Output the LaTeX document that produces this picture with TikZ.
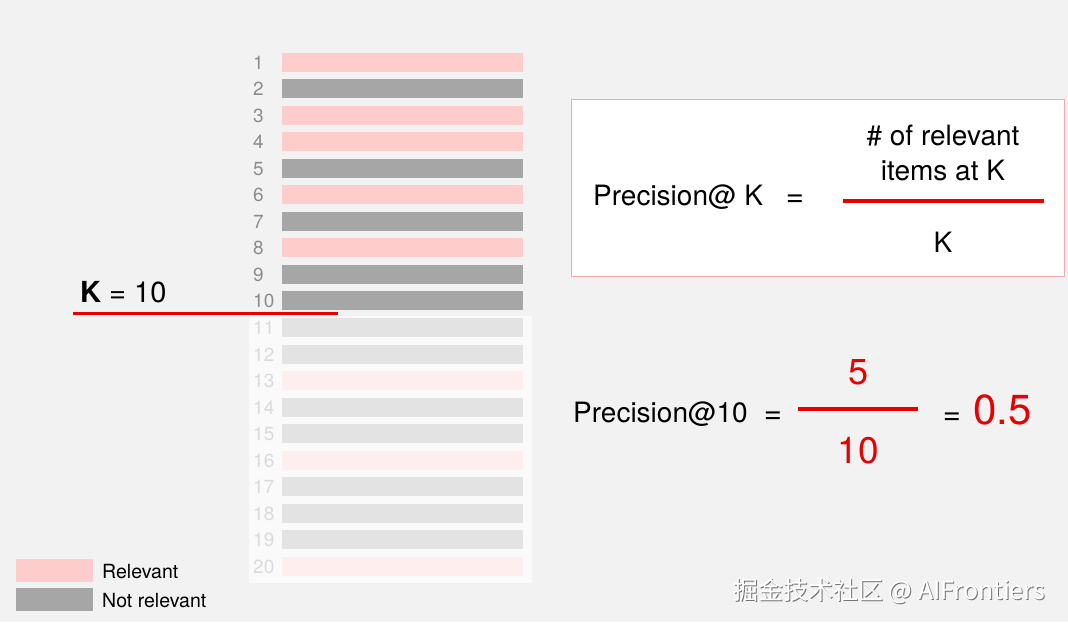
\documentclass[tikz,border=0pt]{standalone}
\usepackage{fontspec}
\setmainfont{TeX Gyre Heros}
\newfontfamily\cjkfont{Noto Sans CJK SC}
\definecolor{bg}{HTML}{F2F2F2}
\definecolor{relpink}{HTML}{FFCCCC}
\definecolor{nrgray}{HTML}{A6A6A6}
\definecolor{fadepink}{HTML}{FFEEEE}
\definecolor{fadegray}{HTML}{E3E3E3}
\definecolor{numgray}{HTML}{8C8C8C}
\definecolor{fadenum}{HTML}{DADADA}
\definecolor{accent}{HTML}{E60000}
\definecolor{boxedge}{HTML}{F2AAAA}
\definecolor{panel}{HTML}{FAFAFA}
\newcommand{\fs}[1]{\fontsize{#1}{#1}\selectfont}
\begin{document}
\begin{tikzpicture}[x=1pt,y=-1pt,
  bar/.style={minimum width=241pt,minimum height=19pt,inner sep=0pt,draw=none},
  rownum/.style={anchor=base west,inner sep=0pt,font=\fs{19}},
  txt/.style={inner sep=0pt,font=\fs{28}},
  eqsign/.style={inner sep=0pt,font=\fs{31}},
  redline/.style={draw=accent,line width=4pt},
  swatch/.style={minimum width=77pt,minimum height=23pt,inner sep=0pt,draw=none}]
\useasboundingbox (0,0) rectangle (1068,622);
\fill[bg] (0,0) rectangle (1068,622);

% faded panel for rows 11-20
\node[fill=panel,minimum width=283pt,minimum height=267pt,inner sep=0pt,anchor=north west] (fadepanel) at (249,316) {};

% rows 1-10
\foreach \i/\c in {1/relpink,2/nrgray,3/relpink,4/relpink,5/nrgray,6/relpink,7/nrgray,8/relpink,9/nrgray,10/nrgray}{
  \pgfmathsetmacro{\yy}{62+(\i-1)*26.55}
  \node[bar,fill=\c] (b\i) at (402.5,\yy) {};
  \node[rownum,text=numgray] (n\i) at (253,\yy+7) {\i};
}
% rows 11-20
\foreach \i/\c in {11/fadegray,12/fadegray,13/fadepink,14/fadegray,15/fadegray,16/fadepink,17/fadegray,18/fadegray,19/fadegray,20/fadepink}{
  \pgfmathsetmacro{\yy}{62+(\i-1)*26.55}
  \node[bar,fill=\c] (b\i) at (402.5,\yy) {};
  \node[rownum,text=fadenum] (n\i) at (253,\yy+7) {\i};
}

% K = 10 cut
\node[anchor=base west,inner sep=0pt,font=\fs{29}] (klabel) at (80,302) {\textbf{K} = 10};
\coordinate (cutL) at (73,313);
\coordinate (cutR) at (338,313);
\draw[draw=accent,line width=3pt] (cutL) -- (cutR);

% formula box
\node[draw=boxedge,fill=white,line width=1pt,minimum width=493pt,minimum height=177pt,inner sep=0pt,anchor=north west] (box) at (571,99) {};
\node[txt,anchor=base west] (pk) at (593,205) {Precision@ K};
\node[eqsign,anchor=base] (eq1) at (795,206) {=};
\node[txt,anchor=base] (num1) at (943,145) {\# of relevant};
\node[txt,anchor=base] (num2) at (943,180) {items at K};
\node[txt,anchor=base] (den1) at (943,252) {K};
\coordinate (f1L) at (843,201);
\coordinate (f1R) at (1044,201);
\draw[redline] (f1L) -- (f1R);

% example
\node[txt,anchor=base west] (p10) at (573,422) {Precision@10};
\node[eqsign,anchor=base] (eq2) at (773,423) {=};
\node[inner sep=0pt,font=\fs{36},text=accent,anchor=base] (five) at (858,384) {5};
\node[inner sep=0pt,font=\fs{37},text=accent,anchor=base] (ten) at (858,463) {10};
\coordinate (f2L) at (798,409);
\coordinate (f2R) at (918,409);
\draw[redline] (f2L) -- (f2R);
\node[eqsign,anchor=base] (eq3) at (952,424) {=};
\node[inner sep=0pt,font=\fs{42},text=accent,anchor=base west] (res) at (973,424) {0.5};

% legend
\node[swatch,fill=relpink,anchor=north west] (lrel) at (16,559) {};
\node[swatch,fill=nrgray,anchor=north west] (lnot) at (16,588) {};
\node[anchor=base west,inner sep=0pt,font=\fs{19.5}] (trel) at (102,578) {Relevant};
\node[anchor=base west,inner sep=0pt,font=\fs{19.5}] (tnot) at (102,607) {Not relevant};

% watermark
\node[anchor=west,inner sep=0pt,font=\cjkfont\fs{25},text=black!55] (wmshadow) at (734,592) {掘金技术社区 @ AIFrontiers};
\node[anchor=west,inner sep=0pt,font=\cjkfont\fs{25},text=white] (wm) at (733,591) {掘金技术社区 @ AIFrontiers};
\end{tikzpicture}
\end{document}
